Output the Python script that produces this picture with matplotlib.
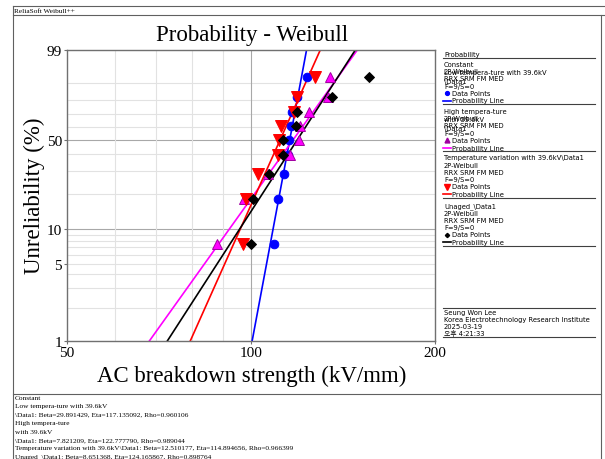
# Weibull probability plot (ReliaSoft style), AC breakdown strength
import numpy as np
import matplotlib.pyplot as plt
from matplotlib.lines import Line2D

# ---- data ----
names = ['Constant\nLow tempera-ture with 39.6kV\n\\Data1',
         'High tempera-ture\nwith 39.6kV\n\\Data1',
         'Temperature variation with 39.6kV\\Data1',
         'Unaged_\\Data1']
# breakdown strength (kV/mm), 9 failures each, sorted
low_temp = [109.1, 110.8, 113.2, 114.8, 115.6, 116.4, 116.8, 118.9, 123.3]
high_temp = [88.1, 97.4, 106.6, 115.8, 120.0, 120.4, 124.2, 133.9, 134.9]
temp_var = [97.0, 98.3, 102.8, 110.5, 111.1, 111.8, 117.5, 118.8, 127.3]
unaged = [100.0, 100.9, 107.1, 112.7, 112.9, 118.5, 118.9, 135.7, 156.0]
betas = [29.891429, 7.821209, 12.510177, 8.651368]
etas = [117.135092, 122.777790, 114.894656, 124.165867]
rhos = [0.960106, 0.989044, 0.966399, 0.898764]

yticks_pct = [1, 5, 10, 50, 99]
ygrid_pct = [1, 2, 3, 4, 5, 6, 7, 8, 9, 10, 20, 30, 40, 50, 60, 70, 80, 90, 99]
xgrid = [60, 70, 80, 90]

series = [low_temp, high_temp, temp_var, unaged]
colors = ['#0000ff', '#ff00ff', '#ff0000', '#000000']
markers = ['o', '^', 'v', 'D']
msizes = [6.2, 7.8, 8.4, 4.8]
medges = ['#0000ff', '#a000a0', '#ff0000', '#000000']


def wtrans(p):
    # weibull paper y coordinate
    return np.log(-np.log(1 - np.asarray(p, dtype=float)))


W, H = 605, 460
fig = plt.figure(figsize=(W / 100, H / 100), dpi=100)
fx = lambda x: x / W
fy = lambda y: 1 - y / H

ax = fig.add_axes([fx(67), fy(342), fx(435) - fx(67), fy(51) - fy(342)])
ax.set_xscale('log')
ax.set_xlim(50, 200)
ax.set_ylim(wtrans(0.01), wtrans(0.99))

# grid
for p in ygrid_pct:
    c = '#a8a8a8' if p in (10, 50) else '#e2e2e2'
    ax.axhline(wtrans(p / 100), color=c, lw=0.8, zorder=0)
for v in xgrid:
    ax.axvline(v, color='#e2e2e2', lw=0.8, zorder=0)
ax.axvline(100, color='#a8a8a8', lw=0.8, zorder=0)

# probability lines
for b, e, c in zip(betas, etas, colors):
    F = np.array([0.001, 0.999])
    x = e * (-np.log(1 - F)) ** (1 / b)
    ax.plot(x, wtrans(F), color=c, lw=1.2, zorder=2)

# data points, Bernard median ranks
for d, c, m, s, me in zip(series, colors, markers, msizes, medges):
    n = len(d)
    rank = (np.arange(1, n + 1) - 0.3) / (n + 0.4)
    ax.plot(d, wtrans(rank), ls='none', marker=m, ms=s, color=c,
            mec=me, mew=0.7, zorder=3)

ax.set_xticks([50, 100, 200])
ax.set_xticklabels(['50', '100', '200'])
ax.xaxis.set_minor_locator(plt.NullLocator())
ax.set_yticks(wtrans(np.array(yticks_pct) / 100))
ax.set_yticklabels([str(p) for p in yticks_pct])
ax.tick_params(labelsize=11, length=2.5, width=0.8, color='#707070', pad=1)
for lab in ax.get_xticklabels() + ax.get_yticklabels():
    lab.set_family('Liberation Serif')
for sp in ax.spines.values():
    sp.set_color('#707070')
    sp.set_linewidth(1.0)

serif = 'Liberation Serif'
fig.text(fx(252), fy(40.7), 'Probability - Weibull', ha='center', va='baseline',
         family=serif, size=16.5)
fig.text(fx(252), fy(382), 'AC breakdown strength (kV/mm)', ha='center', va='baseline',
         family=serif, size=16.5)
fig.text(fx(34), fy(196), 'Unreliability (%)', ha='center', va='center', rotation=90,
         family=serif, size=16.5)

# frame lines
def hline(y, x0, x1, c='#606060', lw=0.8):
    fig.add_artist(Line2D([fx(x0), fx(x1)], [fy(y), fy(y)], color=c, lw=lw,
                          transform=fig.transFigure))

def vline(x, y0, y1, c='#606060', lw=0.8):
    fig.add_artist(Line2D([fx(x), fx(x)], [fy(y0), fy(y1)], color=c, lw=lw,
                          transform=fig.transFigure))

hline(7, 13, 605)
hline(16, 13, 605)
vline(13, 7, 460)
vline(601, 16, 460)
hline(395, 13, 601)
fig.text(fx(14), fy(11.5), 'ReliaSoft Weibull++', ha='left', va='center', family=serif, size=5.2)

# legend panel
sans = ['DejaVu Sans', 'Noto Sans CJK KR']
ls = 4.9
fig.text(fx(444), fy(55), 'Probability', ha='left', va='center', family=sans, size=ls)
hline(58.5, 443, 595, c='#404040')
block_tops = [65, 112, 158.5, 206.5]
for i, top in enumerate(block_tops):
    # series name lines run into the fixed parameter lines, as in the original
    for j, ln in enumerate(names[i].split('\n')):
        fig.text(fx(444), fy(top + j * 8.4), ln, ha='left', va='center', family=sans, size=ls)
    for j, ln in enumerate(['2P-Weibull', 'RRX SRM FM MED', 'F=9/S=0']):
        fig.text(fx(444), fy(top + (j + 1) * 7.2), ln, ha='left', va='center', family=sans, size=ls)
    fig.add_artist(Line2D([fx(447)], [fy(top + 29)], ls='none', marker=markers[i],
                          ms=msizes[i] * 0.45, color=colors[i], mec=medges[i] if i == 1 else colors[i],
                          mfc=medges[i] if i == 1 else colors[i], transform=fig.transFigure))
    fig.text(fx(452), fy(top + 29), 'Data Points', ha='left', va='center', family=sans, size=ls)
    fig.add_artist(Line2D([fx(443), fx(451)], [fy(top + 36.5)] * 2, color=colors[i], lw=1.2,
                          transform=fig.transFigure))
    fig.text(fx(452), fy(top + 36.5), 'Probability Line', ha='left', va='center', family=sans, size=ls)
    hline(top + 40, 443, 595, c='#404040')

# author block
hline(308.5, 443, 595, c='#404040')
for j, ln in enumerate(['Seung Won Lee', 'Korea Electrotechnology Research Institute',
                        '2025-03-19', '오후 4:21:33']):
    fig.text(fx(444), fy(313.5 + j * 6.8), ln, ha='left', va='center', family=sans, size=ls)
hline(337.5, 443, 595, c='#404040')

# bottom parameter text
lines = []
for nm, b, e, r in zip(names, betas, etas, rhos):
    parts = nm.split('\n')
    lines += parts[:-1]
    lines.append('%s: Beta=%.6f, Eta=%.6f, Rho=%.6f' % (parts[-1], b, e, r))
for j, ln in enumerate(lines):
    fig.text(fx(15), fy(398.5 + j * 8.4), ln, ha='left', va='center', family=serif, size=5.3)

fig.savefig('out.png', dpi=100)
